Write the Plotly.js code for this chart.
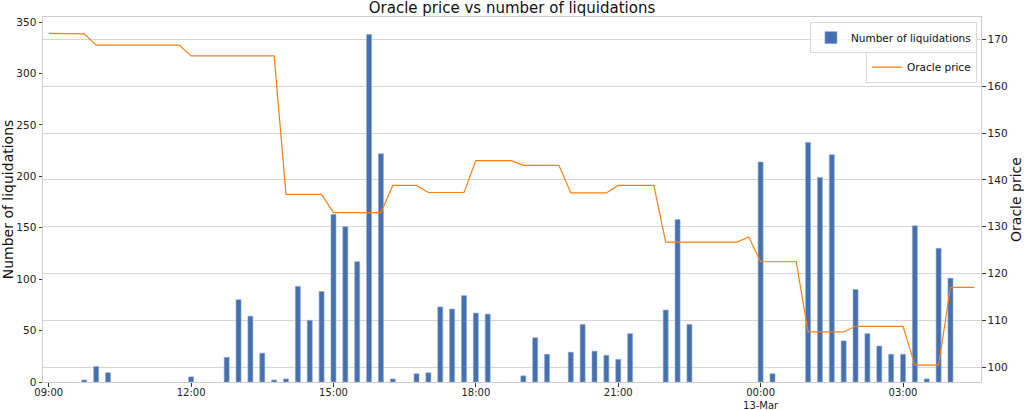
<!DOCTYPE html>
<html>
<head>
<meta charset="utf-8">
<script src="https://cdn.plot.ly/plotly-3.0.1.min.js"></script>
<style>
  html, body { margin: 0; padding: 0; background: #fff; }
  #myDiv { width: 1024px; height: 410px; }
</style>
</head>
<body>
<div id="myDiv"></div>
<script>
// liquidations per 15 minutes (12-13 March)
var barTimes = ["09:45","10:00","10:15","12:00","12:45","13:00","13:15","13:30","13:45","14:00",
  "14:15","14:30","14:45","15:00","15:15","15:30","15:45","16:00","16:15","16:45",
  "17:00","17:15","17:30","17:45","18:00","18:15","19:00","19:15","19:30","20:00",
  "20:15","20:30","20:45","21:00","21:15","22:00","22:15","22:30","00:00","00:15",
  "01:00","01:15","01:30","01:45","02:00","02:15","02:30","02:45","03:00","03:15",
  "03:30","03:45","04:00"];
var liquidations = [2,15,9,5,24,80,64,28,2,3,
  93,60,88,163,151,117,338,222,3,8,
  9,73,71,84,67,66,6,43,27,29,
  56,30,26,22,47,70,158,56,214,8,
  233,199,221,40,90,47,35,27,27,152,
  3,130,101];

// oracle price, the points where the line turns
var priceTimes = ["09:00","09:45","10:00","11:45","12:00","13:45","14:00","14:45","15:00","16:00",
  "16:15","16:45","17:00","17:45","18:00","18:45","19:00","19:45","20:00","20:45",
  "21:00","21:45","22:00","23:30","23:45","00:00","00:45","01:00","01:45","02:00",
  "03:00","03:15","03:45","04:00","04:30"];
var oraclePrice = [171.3,171.2,168.8,168.8,166.5,166.5,136.9,136.9,133.0,133.0,
  138.8,138.8,137.3,137.3,144.1,144.1,143.1,143.1,137.2,137.2,
  138.8,138.8,126.7,126.7,127.8,122.5,122.5,107.5,107.5,108.7,
  108.7,100.4,100.4,117.0,117.0];

var tickTimes = ["09:00","12:00","15:00","18:00","21:00","00:00","03:00"];
var tickLabels = ["09:00","12:00","15:00","18:00","21:00","00:00<br>13-Mar","03:00"];

function t(hm) {
  var h = parseInt(hm.slice(0, 2), 10);
  return (h >= 9 ? "2020-03-12 " : "2020-03-13 ") + hm;
}

var bars = {
  x: barTimes.map(t),
  y: liquidations,
  type: 'bar',
  name: 'Number of liquidations',
  width: 380000,
  marker: { color: '#4470b0', line: { color: '#8fa8d4', width: 0.6 } },
  legend: 'legend'
};

var price = {
  x: priceTimes.map(t),
  y: oraclePrice,
  type: 'scatter',
  mode: 'lines',
  name: 'Oracle price',
  yaxis: 'y2',
  line: { color: '#ff7f0e', width: 1.2 },
  legend: 'legend2'
};

var tickFont = { family: 'DejaVu Sans', size: 10.5, color: '#222' };
var legendFont = { family: 'DejaVu Sans', size: 10.5, color: '#111' };

var layout = {
  width: 1024,
  height: 410,
  margin: { l: 43, r: 43, t: 17, b: 28 },
  paper_bgcolor: '#fff',
  plot_bgcolor: '#fff',
  font: { family: 'DejaVu Sans', color: '#111' },
  title: {
    text: 'Oracle price vs number of liquidations',
    font: { family: 'DejaVu Sans', size: 15, color: '#111' },
    x: 0.5, xanchor: 'center',
    y: 0.982, yanchor: 'middle'
  },
  xaxis: {
    type: 'date',
    range: ['2020-03-12 08:52:48', '2020-03-13 04:38:36'],
    tickvals: tickTimes.map(t),
    ticktext: tickLabels,
    tickfont: { family: 'DejaVu Sans', size: 10, color: '#222' },
    ticks: 'outside', ticklen: 3.5, tickcolor: '#333',
    ticklabelstandoff: -3,
    showgrid: false,
    showline: true, linecolor: '#cccccc', linewidth: 1, mirror: true,
    zeroline: false
  },
  yaxis: {
    title: { text: 'Number of liquidations', font: { family: 'DejaVu Sans', size: 14, color: '#111' }, standoff: 4 },
    range: [0, 355],
    tickvals: [0, 50, 100, 150, 200, 250, 300, 350],
    tickfont: tickFont,
    ticks: 'outside', ticklen: 3.5, tickcolor: '#333',
    showgrid: false,
    showline: true, linecolor: '#cccccc', linewidth: 1,
    zeroline: false
  },
  yaxis2: {
    title: { text: 'Oracle price', font: { family: 'DejaVu Sans', size: 14, color: '#111' }, standoff: 4 },
    overlaying: 'y',
    side: 'right',
    range: [96.8, 174.8],
    tickvals: [100, 110, 120, 130, 140, 150, 160, 170],
    tickfont: tickFont,
    ticks: 'outside', ticklen: 3.5, tickcolor: '#333',
    showgrid: true, gridcolor: '#d6d6d6', gridwidth: 1,
    showline: true, linecolor: '#cccccc', linewidth: 1,
    zeroline: false
  },
  bargap: 0,
  legend: {
    x: 0.9957, xanchor: 'right', y: 0.986, yanchor: 'top',
    bgcolor: 'rgba(255,255,255,0.8)', bordercolor: '#d8d8d8', borderwidth: 1,
    font: legendFont,
    itemwidth: 30
  },
  legend2: {
    x: 0.9957, xanchor: 'right', y: 0.905, yanchor: 'top',
    bgcolor: 'rgba(255,255,255,0.8)', bordercolor: '#d8d8d8', borderwidth: 1,
    font: legendFont,
    itemwidth: 30
  },
  showlegend: true
};

Plotly.newPlot('myDiv', [bars, price], layout, { displayModeBar: false, staticPlot: true });
</script>
</body>
</html>
